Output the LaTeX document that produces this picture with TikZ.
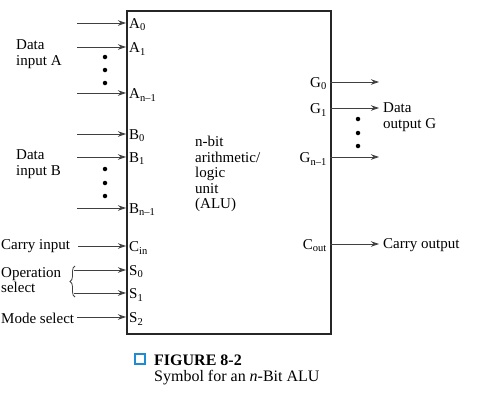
\documentclass[tikz,border=0pt]{standalone}
\usepackage{fontspec}
\setmainfont{Liberation Serif}
\usetikzlibrary{arrows.meta,decorations.pathreplacing}
\begin{document}
\begin{tikzpicture}[x=1pt,y=-1pt,
  every node/.style={font=\fontsize{15}{15.5}\selectfont, inner sep=0pt},
  sig/.style={draw=black!75, line width=0.9pt, -{Stealth[length=8pt,width=5.5pt]}},
  port/.style={anchor=west},
  oport/.style={anchor=east},
  txt/.style={anchor=west, align=left},
  vdot/.style={fill=black, circle, minimum size=4.5pt, inner sep=0pt}]
\useasboundingbox (0,0) rectangle (479,407);
% ALU box
\node[draw=black!85, line width=1.5pt, minimum width=204pt, minimum height=323pt, anchor=north west] (alu) at (126,10) {};
% input port coordinates on the box
\foreach \n/\y in {a0/23,a1/47,an/93,b0/134,b1/157,bn/208,cin/246,s0/270,s1/293,s2/317}{
  \coordinate (\n) at (126,\y);
}
\foreach \n/\x/\y in {a0s/77/23,a1s/77/47,ans/77/93,b0s/77/134,b1s/77/157,bns/77/208,cins/78/246,s0s/74/270,s1s/74/293,s2s/77/317}{
  \coordinate (\n) at (\x,\y);
}
\foreach \n in {a0,a1,an,b0,b1,bn,cin,s0,s1,s2}{
  \draw[sig] (\n s) -- (\n);
}
% input labels
\node[port] (la0) at (129,25) {A\textsubscript{0}};
\node[port] (la1) at (129,49) {A\textsubscript{1}};
\node[port] (lan) at (129,95) {A\textsubscript{n–1}};
\node[port] (lb0) at (129,136) {B\textsubscript{0}};
\node[port] (lb1) at (129,159) {B\textsubscript{1}};
\node[port] (lbn) at (129,210) {B\textsubscript{n–1}};
\node[port] (lcin) at (129,248) {C\textsubscript{in}};
\node[port] (ls0) at (129,272) {S\textsubscript{0}};
\node[port] (ls1) at (129,295) {S\textsubscript{1}};
\node[port] (ls2) at (129,319) {S\textsubscript{2}};
% vertical dots
\foreach \y in {57,70,83,169,183,196}{
  \node[vdot] at (105,\y) {};
}
% left side texts
\node[txt] (dataA) at (16,54) {Data\\input A};
\node[txt] (dataB) at (16,164) {Data\\input B};
\node[txt] (carryin) at (1,246) {Carry input};
\node[txt] (opsel) at (1,280) {Operation\\select};
\node[txt] (modesel) at (1,318) {Mode select};
\draw[black!75, line width=0.8pt, decorate, decoration={brace, amplitude=5pt}] (75,297) -- (75,266);
% output ports
\foreach \n/\y in {g0/82,g1/108,gn/157,cout/244}{
  \coordinate (\n) at (330,\y);
  \coordinate (\n e) at (379,\y);
  \draw[sig] (\n) -- (\n e);
}
\node[oport] (lg0) at (327,84) {G\textsubscript{0}};
\node[oport] (lg1) at (327,110) {G\textsubscript{1}};
\node[oport] (lgn) at (327,159) {G\textsubscript{n–1}};
\node[oport] (lcout) at (327,246) {C\textsubscript{out}};
\foreach \y in {119,133,146}{
  \node[vdot] at (358,\y) {};
}
\node[txt] (dataG) at (383,117) {Data\\output G};
\node[txt] (carryout) at (383,245) {Carry output};
% center text
\node[txt, anchor=north west] (center) at (195,136) {n-bit\\arithmetic/\\logic\\unit\\(ALU)};
% caption
\draw[draw={rgb,255:red,30;green,140;blue,210}, line width=1.4pt] (135,354) rectangle (145,364);
\node[txt, font=\fontsize{16}{16}\selectfont\bfseries] (fig) at (154,360) {FIGURE 8-2};
\node[txt, font=\fontsize{16}{16}\selectfont] (capt) at (154,378) {Symbol for an \textit{n}-Bit ALU};
\end{tikzpicture}
\end{document}
